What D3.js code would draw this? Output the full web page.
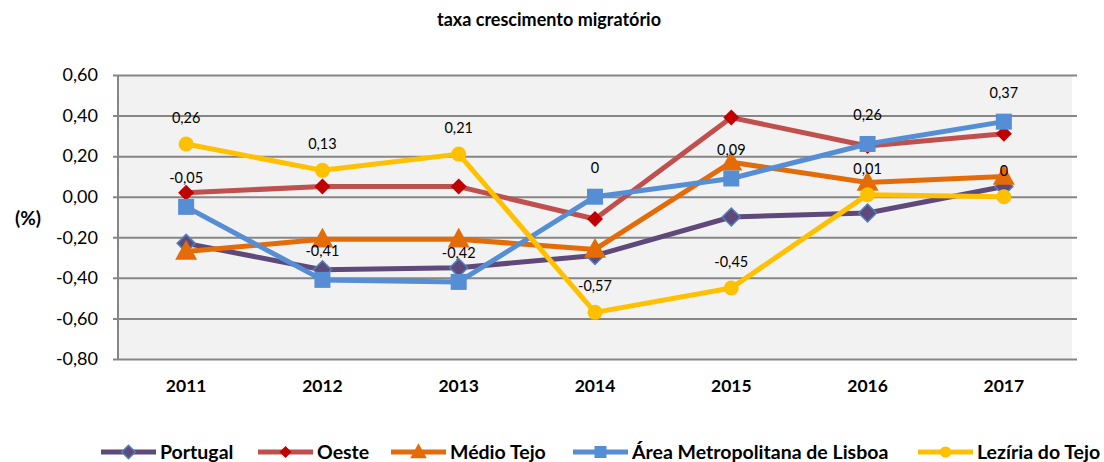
<!DOCTYPE html>
<html>
<head>
<meta charset="utf-8">
<script src="https://cdn.jsdelivr.net/npm/d3@7"></script>
<style>
  body { margin: 0; background: #fff; }
  text { font-family: Lato, "Open Sans", sans-serif; }
</style>
</head>
<body>
<svg id="chart" width="1104" height="462"></svg>
<script>
var years = ["2011", "2012", "2013", "2014", "2015", "2016", "2017"];
var yTicks = [-0.8, -0.6, -0.4, -0.2, 0, 0.2, 0.4, 0.6];

var portugal = [-0.23, -0.36, -0.35, -0.29, -0.10, -0.08, 0.05];
var oeste = [0.02, 0.05, 0.05, -0.11, 0.39, 0.25, 0.31];
var medioTejo = [-0.27, -0.21, -0.21, -0.26, 0.17, 0.07, 0.10];
var lisboa = [-0.05, -0.41, -0.42, 0, 0.09, 0.26, 0.37];
var leziria = [0.26, 0.13, 0.21, -0.57, -0.45, 0.01, 0];

var series = [
  {name: "Portugal", values: portugal, line: "#5f497a", fill: "#5f497a", stroke: "#4f81bd", shape: "diamond", size: 9, labels: false},
  {name: "Oeste", values: oeste, line: "#c0504d", fill: "#c00000", stroke: "none", shape: "diamond", size: 8, labels: false},
  {name: "Médio Tejo", values: medioTejo, line: "#e36c09", fill: "#e36c09", stroke: "none", shape: "triangle", size: 11, labels: false},
  {name: "Área Metropolitana de Lisboa", values: lisboa, line: "#558ed5", fill: "#558ed5", stroke: "none", shape: "square", size: 8, labels: true, dy: 29},
  {name: "Lezíria do Tejo", values: leziria, line: "#ffc000", fill: "#ffc000", stroke: "none", shape: "circle", size: 7.5, labels: true, dy: 26}
];

var margin = {top: 75, right: 32, bottom: 103, left: 118};
var svg = d3.select("#chart"),
    width = +svg.attr("width") - margin.left - margin.right,
    height = +svg.attr("height") - margin.top - margin.bottom,
    g = svg.append("g").attr("transform", "translate(" + margin.left + "," + margin.top + ")");

var x = d3.scaleBand().domain(years).range([0, width]);
var y = d3.scaleLinear().domain([-0.8, 0.6]).range([height, 0]);

// comma decimals, plain hyphen for minus
var fmt2 = function(v) { return d3.format(".2f")(v).replace(".", ",").replace("\u2212", "-"); };
var fmt = function(v) { return v === 0 ? "0" : fmt2(v); };

// plot background
g.append("rect")
    .attr("width", width)
    .attr("height", height)
    .attr("fill", "#f2f2f2");

// grid + y axis
g.append("g")
    .call(d3.axisLeft(y).tickValues(yTicks).tickSize(-width - 5).tickPadding(20).tickFormat(fmt2))
    .call(function(a) {
      a.select(".domain").remove();
      a.selectAll(".tick line")
        .attr("x1", -5)
        .attr("stroke", "#868686")
        .attr("stroke-width", 2);
      a.selectAll(".tick text")
        .attr("font-size", 18)
        .attr("fill", "#000");
    });

// left axis line
g.append("line")
    .attr("x1", 0).attr("x2", 0)
    .attr("y1", 0).attr("y2", height)
    .attr("stroke", "#868686")
    .attr("stroke-width", 2);

// x axis labels
g.append("g")
    .attr("transform", "translate(0," + height + ")")
    .call(d3.axisBottom(x).tickSize(0).tickPadding(21))
    .call(function(a) {
      a.select(".domain").remove();
      a.selectAll(".tick text")
        .attr("font-size", 17.5)
        .attr("font-weight", "bold")
        .attr("fill", "#000");
    });

var cx = function(i) { return x(years[i]) + x.bandwidth() / 2; };

function marker(sel, s) {
  var k = s.size;
  if (s.shape === "circle") {
    sel.append("circle").attr("r", k);
  } else if (s.shape === "square") {
    sel.append("rect").attr("x", -k).attr("y", -k).attr("width", 2 * k).attr("height", 2 * k);
  } else if (s.shape === "diamond") {
    sel.append("path").attr("d", "M0," + (-k) + "L" + k + ",0L0," + k + "L" + (-k) + ",0Z");
  } else {
    sel.append("path").attr("d", "M0," + (-k * 1.05) + "L" + k + "," + (k * 0.75) + "L" + (-k) + "," + (k * 0.75) + "Z");
  }
  sel.selectAll("*")
    .attr("fill", s.fill)
    .attr("stroke", s.stroke)
    .attr("stroke-width", s.stroke === "none" ? 0 : 1.5);
}

var line = d3.line()
    .x(function(d, i) { return cx(i); })
    .y(function(d) { return y(d); });

series.forEach(function(s) {
  var sg = g.append("g");
  sg.append("path")
      .datum(s.values)
      .attr("fill", "none")
      .attr("stroke", s.line)
      .attr("stroke-width", 5)
      .attr("stroke-linejoin", "round")
      .attr("d", line);
  sg.selectAll("g.pt")
    .data(s.values)
    .enter().append("g")
      .attr("class", "pt")
      .attr("transform", function(d, i) { return "translate(" + cx(i) + "," + y(d) + ")"; })
      .each(function() { marker(d3.select(this), s); });
});

// data labels
series.filter(function(s) { return s.labels; }).forEach(function(s) {
  g.append("g").selectAll("text")
    .data(s.values)
    .enter().append("text")
      .attr("x", function(d, i) { return cx(i); })
      .attr("y", function(d) { return y(d) - s.dy; })
      .attr("dy", "0.35em")
      .attr("text-anchor", "middle")
      .attr("font-size", 14.5)
      .attr("fill", "#000")
      .text(fmt);
});

// title
svg.append("text")
    .attr("x", 549)
    .attr("y", 26)
    .attr("text-anchor", "middle")
    .attr("font-size", 18)
    .attr("font-weight", "bold")
    .text("taxa crescimento migratório");

// y label
svg.append("text")
    .attr("x", 28)
    .attr("y", 225)
    .attr("text-anchor", "middle")
    .attr("font-size", 19)
    .attr("font-weight", "bold")
    .text("(%)");

// legend
var legendX = [101, 258, 391, 573, 918];
var legend = svg.append("g")
    .selectAll("g")
    .data(series)
    .enter().append("g")
      .attr("transform", function(d, i) { return "translate(" + legendX[i] + ",452)"; });

legend.append("line")
    .attr("x1", 0).attr("x2", 55)
    .attr("stroke", function(d) { return d.line; })
    .attr("stroke-width", 5);

legend.append("g")
    .attr("transform", "translate(27.5,0)")
    .each(function(d) {
      var s = Object.assign({}, d, {size: d.size * 0.75});
      marker(d3.select(this), s);
    });

legend.append("text")
    .attr("x", 59)
    .attr("dy", "0.35em")
    .attr("font-size", 19.5)
    .attr("font-weight", "bold")
    .text(function(d) { return d.name; });
</script>
</body>
</html>
